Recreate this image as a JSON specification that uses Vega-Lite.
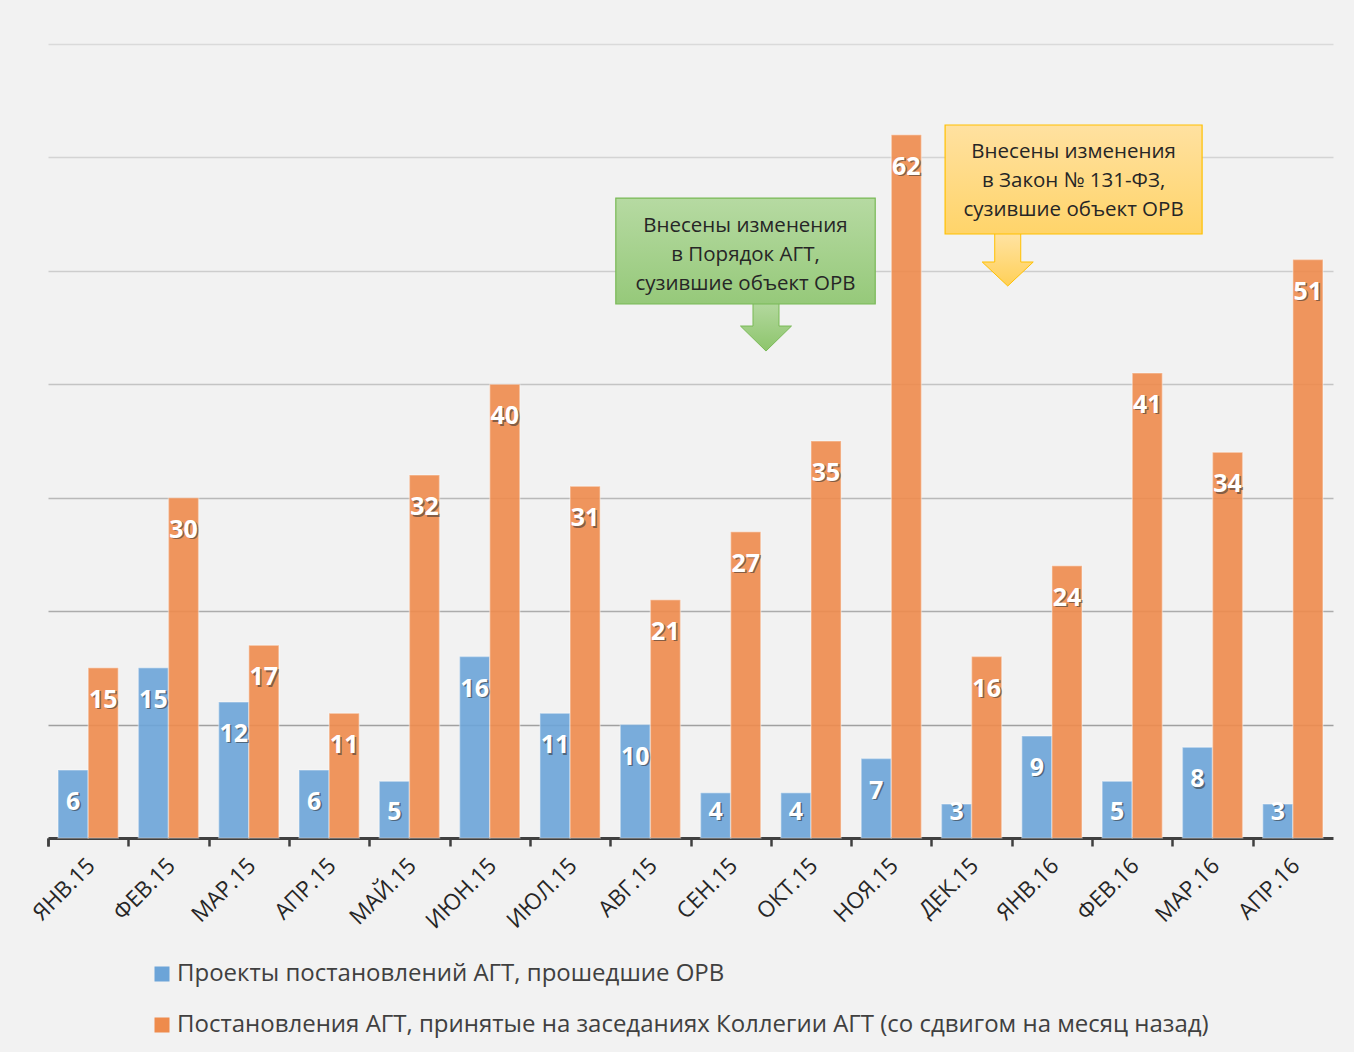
{
  "$schema": "https://vega.github.io/schema/vega-lite/v6.json",
  "width": 1285,
  "height": 794,
  "autosize": {"type": "none"},
  "padding": {"left": 48, "top": 44, "right": 21, "bottom": 214},
  "background": "#f2f2f2",
  "config": {"view": {"stroke": null}, "font": "Open Sans"},
  "datasets": {
    "bars": [
      {"month": "ЯНВ.15", "series": "Проекты постановлений АГТ, прошедшие ОРВ", "value": 6},
      {"month": "ЯНВ.15", "series": "Постановления АГТ, принятые на заседаниях Коллегии АГТ (со сдвигом на месяц назад)", "value": 15},
      {"month": "ФЕВ.15", "series": "Проекты постановлений АГТ, прошедшие ОРВ", "value": 15},
      {"month": "ФЕВ.15", "series": "Постановления АГТ, принятые на заседаниях Коллегии АГТ (со сдвигом на месяц назад)", "value": 30},
      {"month": "МАР.15", "series": "Проекты постановлений АГТ, прошедшие ОРВ", "value": 12},
      {"month": "МАР.15", "series": "Постановления АГТ, принятые на заседаниях Коллегии АГТ (со сдвигом на месяц назад)", "value": 17},
      {"month": "АПР.15", "series": "Проекты постановлений АГТ, прошедшие ОРВ", "value": 6},
      {"month": "АПР.15", "series": "Постановления АГТ, принятые на заседаниях Коллегии АГТ (со сдвигом на месяц назад)", "value": 11},
      {"month": "МАЙ.15", "series": "Проекты постановлений АГТ, прошедшие ОРВ", "value": 5},
      {"month": "МАЙ.15", "series": "Постановления АГТ, принятые на заседаниях Коллегии АГТ (со сдвигом на месяц назад)", "value": 32},
      {"month": "ИЮН.15", "series": "Проекты постановлений АГТ, прошедшие ОРВ", "value": 16},
      {"month": "ИЮН.15", "series": "Постановления АГТ, принятые на заседаниях Коллегии АГТ (со сдвигом на месяц назад)", "value": 40},
      {"month": "ИЮЛ.15", "series": "Проекты постановлений АГТ, прошедшие ОРВ", "value": 11},
      {"month": "ИЮЛ.15", "series": "Постановления АГТ, принятые на заседаниях Коллегии АГТ (со сдвигом на месяц назад)", "value": 31},
      {"month": "АВГ.15", "series": "Проекты постановлений АГТ, прошедшие ОРВ", "value": 10},
      {"month": "АВГ.15", "series": "Постановления АГТ, принятые на заседаниях Коллегии АГТ (со сдвигом на месяц назад)", "value": 21},
      {"month": "СЕН.15", "series": "Проекты постановлений АГТ, прошедшие ОРВ", "value": 4},
      {"month": "СЕН.15", "series": "Постановления АГТ, принятые на заседаниях Коллегии АГТ (со сдвигом на месяц назад)", "value": 27},
      {"month": "ОКТ.15", "series": "Проекты постановлений АГТ, прошедшие ОРВ", "value": 4},
      {"month": "ОКТ.15", "series": "Постановления АГТ, принятые на заседаниях Коллегии АГТ (со сдвигом на месяц назад)", "value": 35},
      {"month": "НОЯ.15", "series": "Проекты постановлений АГТ, прошедшие ОРВ", "value": 7},
      {"month": "НОЯ.15", "series": "Постановления АГТ, принятые на заседаниях Коллегии АГТ (со сдвигом на месяц назад)", "value": 62},
      {"month": "ДЕК.15", "series": "Проекты постановлений АГТ, прошедшие ОРВ", "value": 3},
      {"month": "ДЕК.15", "series": "Постановления АГТ, принятые на заседаниях Коллегии АГТ (со сдвигом на месяц назад)", "value": 16},
      {"month": "ЯНВ.16", "series": "Проекты постановлений АГТ, прошедшие ОРВ", "value": 9},
      {"month": "ЯНВ.16", "series": "Постановления АГТ, принятые на заседаниях Коллегии АГТ (со сдвигом на месяц назад)", "value": 24},
      {"month": "ФЕВ.16", "series": "Проекты постановлений АГТ, прошедшие ОРВ", "value": 5},
      {"month": "ФЕВ.16", "series": "Постановления АГТ, принятые на заседаниях Коллегии АГТ (со сдвигом на месяц назад)", "value": 41},
      {"month": "МАР.16", "series": "Проекты постановлений АГТ, прошедшие ОРВ", "value": 8},
      {"month": "МАР.16", "series": "Постановления АГТ, принятые на заседаниях Коллегии АГТ (со сдвигом на месяц назад)", "value": 34},
      {"month": "АПР.16", "series": "Проекты постановлений АГТ, прошедшие ОРВ", "value": 3},
      {"month": "АПР.16", "series": "Постановления АГТ, принятые на заседаниях Коллегии АГТ (со сдвигом на месяц назад)", "value": 51}
    ],
    "notes": [
      {"id": "green", "x1": 7.07, "x2": 10.30, "y1": 47.08, "y2": 56.42, "ax": 8.94, "ay": 45.0, "tx": 8.685, "ty": 53.95, "label": "Внесены изменения\nв Порядок АГТ,\nсузившие объект ОРВ"},
      {"id": "yellow", "x1": 11.17, "x2": 14.37, "y1": 53.25, "y2": 62.86, "ax": 11.95, "ay": 50.96, "tx": 12.77, "ty": 60.48, "label": "Внесены изменения\nв Закон № 131-ФЗ,\nсузившие объект ОРВ"}
    ]
  },
  "layer": [
    {
      "data": {"name": "bars"},
      "transform": [{"calculate": "max(datum.value - 2.82, 2.3)", "as": "labelY"}],
      "encoding": {
        "x": {
          "field": "month", "type": "nominal", "sort": null,
          "scale": {"paddingInner": 0.25, "paddingOuter": 0.125},
          "axis": {
            "title": null, "bandPosition": 0, "tickExtra": true, "tickOffset": -10, "labelOffset": 5,
            "labelAngle": -45, "labelFontSize": 22.5,
            "labelColor": "#262626", "labelOverlap": false, "labelPadding": 8,
            "domainColor": "#404040", "domainWidth": 3, "tickColor": "#404040",
            "tickWidth": 2.5, "tickSize": 8, "grid": false
          }
        },
        "xOffset": {
          "field": "series", "type": "nominal",
          "scale": {"domain": ["Проекты постановлений АГТ, прошедшие ОРВ", "Постановления АГТ, принятые на заседаниях Коллегии АГТ (со сдвигом на месяц назад)"]}
        }
      },
      "layer": [
        {
          "mark": {"type": "bar", "fillOpacity": 0.9, "stroke": "#ffffff", "strokeOpacity": 0.35, "strokeWidth": 1.5},
          "encoding": {
            "y": {
              "field": "value", "type": "quantitative",
              "scale": {"domain": [0, 70], "nice": false},
              "axis": {
                "title": null, "labels": false, "ticks": false, "domain": false,
                "values": [10, 20, 30, 40, 50, 60, 70], "gridWidth": 1.5,
                "gridColor": {
                  "condition": [
                    {"test": "datum.value <= 10", "value": "#a0a0a0"},
                    {"test": "datum.value <= 20", "value": "#acacac"},
                    {"test": "datum.value <= 30", "value": "#b9b9b9"},
                    {"test": "datum.value <= 40", "value": "#c4c4c4"},
                    {"test": "datum.value <= 50", "value": "#cdcdcd"},
                    {"test": "datum.value <= 60", "value": "#d4d4d4"}
                  ],
                  "value": "#dadada"
                }
              }
            },
            "color": {
              "field": "series", "type": "nominal",
              "scale": {
                "domain": ["Проекты постановлений АГТ, прошедшие ОРВ", "Постановления АГТ, принятые на заседаниях Коллегии АГТ (со сдвигом на месяц назад)"],
                "range": ["#6ca4d8", "#ee8b4c"]
              },
              "legend": {
                "title": null, "orient": "none", "legendX": 102, "legendY": 918,
                "direction": "vertical", "symbolType": "square", "symbolSize": 225,
                "symbolStrokeWidth": 0, "symbolOpacity": 1, "labelFontSize": 24, "labelColor": "#404040",
                "labelOffset": 3, "rowPadding": 27, "labelLimit": 1200
              }
            }
          }
        },
        {
          "mark": {"type": "text", "fontSize": 25, "fontWeight": "bold", "baseline": "middle", "fill": "#303030", "opacity": 0.55, "dx": 1.5, "dy": 1.5},
          "encoding": {
            "y": {"field": "labelY", "type": "quantitative"},
            "text": {"field": "value", "type": "quantitative"}
          }
        },
        {
          "mark": {"type": "text", "fontSize": 25, "fontWeight": "bold", "baseline": "middle", "fill": "#ffffff"},
          "encoding": {
            "y": {"field": "labelY", "type": "quantitative"},
            "text": {"field": "value", "type": "quantitative"}
          }
        }
      ]
    },
    {
      "data": {"name": "notes"},
      "layer": [
        {
          "transform": [{"filter": "datum.id === 'green'"}],
          "mark": {
            "type": "point", "filled": true, "opacity": 1, "size": 2601,
            "shape": "M-0.51,-0.95 L0.51,-0.95 L0.51,-0.06 L1,-0.06 L0,0.92 L-1,-0.06 L-0.51,-0.06 Z",
            "fill": {"gradient": "linear", "x1": 0, "y1": 0, "x2": 0, "y2": 1, "stops": [{"offset": 0, "color": "#b3d89e"}, {"offset": 1, "color": "#8dc56c"}]},
            "stroke": "#79b956", "strokeWidth": 1
          },
          "encoding": {
            "x": {"field": "ax", "type": "quantitative", "scale": {"domain": [0, 16], "nice": false, "zero": false}, "axis": null},
            "y": {"field": "ay", "type": "quantitative"}
          }
        },
        {
          "transform": [{"filter": "datum.id === 'yellow'"}],
          "mark": {
            "type": "point", "filled": true, "opacity": 1, "size": 2601,
            "shape": "M-0.51,-1.05 L0.51,-1.05 L0.51,0.08 L1,0.08 L0,1.02 L-1,0.08 L-0.51,0.08 Z",
            "fill": {"gradient": "linear", "x1": 0, "y1": 0, "x2": 0, "y2": 1, "stops": [{"offset": 0, "color": "#ffe3a3"}, {"offset": 1, "color": "#ffd058"}]},
            "stroke": "#ffc000", "strokeWidth": 1
          },
          "encoding": {
            "x": {"field": "ax", "type": "quantitative"},
            "y": {"field": "ay", "type": "quantitative"}
          }
        },
        {
          "transform": [{"filter": "datum.id === 'green'"}],
          "mark": {
            "type": "rect",
            "fill": {"gradient": "linear", "x1": 0, "y1": 0, "x2": 0, "y2": 1, "stops": [{"offset": 0, "color": "#b6daa2"}, {"offset": 1, "color": "#96c97a"}]},
            "stroke": "#79b956", "strokeWidth": 1.2
          },
          "encoding": {
            "x": {"field": "x1", "type": "quantitative"},
            "x2": {"field": "x2"},
            "y": {"field": "y1", "type": "quantitative"},
            "y2": {"field": "y2"}
          }
        },
        {
          "transform": [{"filter": "datum.id === 'yellow'"}],
          "mark": {
            "type": "rect",
            "fill": {"gradient": "linear", "x1": 0, "y1": 0, "x2": 0, "y2": 1, "stops": [{"offset": 0, "color": "#ffe1a0"}, {"offset": 1, "color": "#ffd46a"}]},
            "stroke": "#ffc000", "strokeWidth": 1.2
          },
          "encoding": {
            "x": {"field": "x1", "type": "quantitative"},
            "x2": {"field": "x2"},
            "y": {"field": "y1", "type": "quantitative"},
            "y2": {"field": "y2"}
          }
        },
        {
          "mark": {"type": "text", "fontSize": 20.5, "fill": "#262626", "align": "center", "baseline": "middle", "lineBreak": "\n", "lineHeight": 29},
          "encoding": {
            "x": {"field": "tx", "type": "quantitative"},
            "y": {"field": "ty", "type": "quantitative"},
            "text": {"field": "label", "type": "nominal"}
          }
        }
      ]
    }
  ],
  "resolve": {"scale": {"x": "independent"}}
}
